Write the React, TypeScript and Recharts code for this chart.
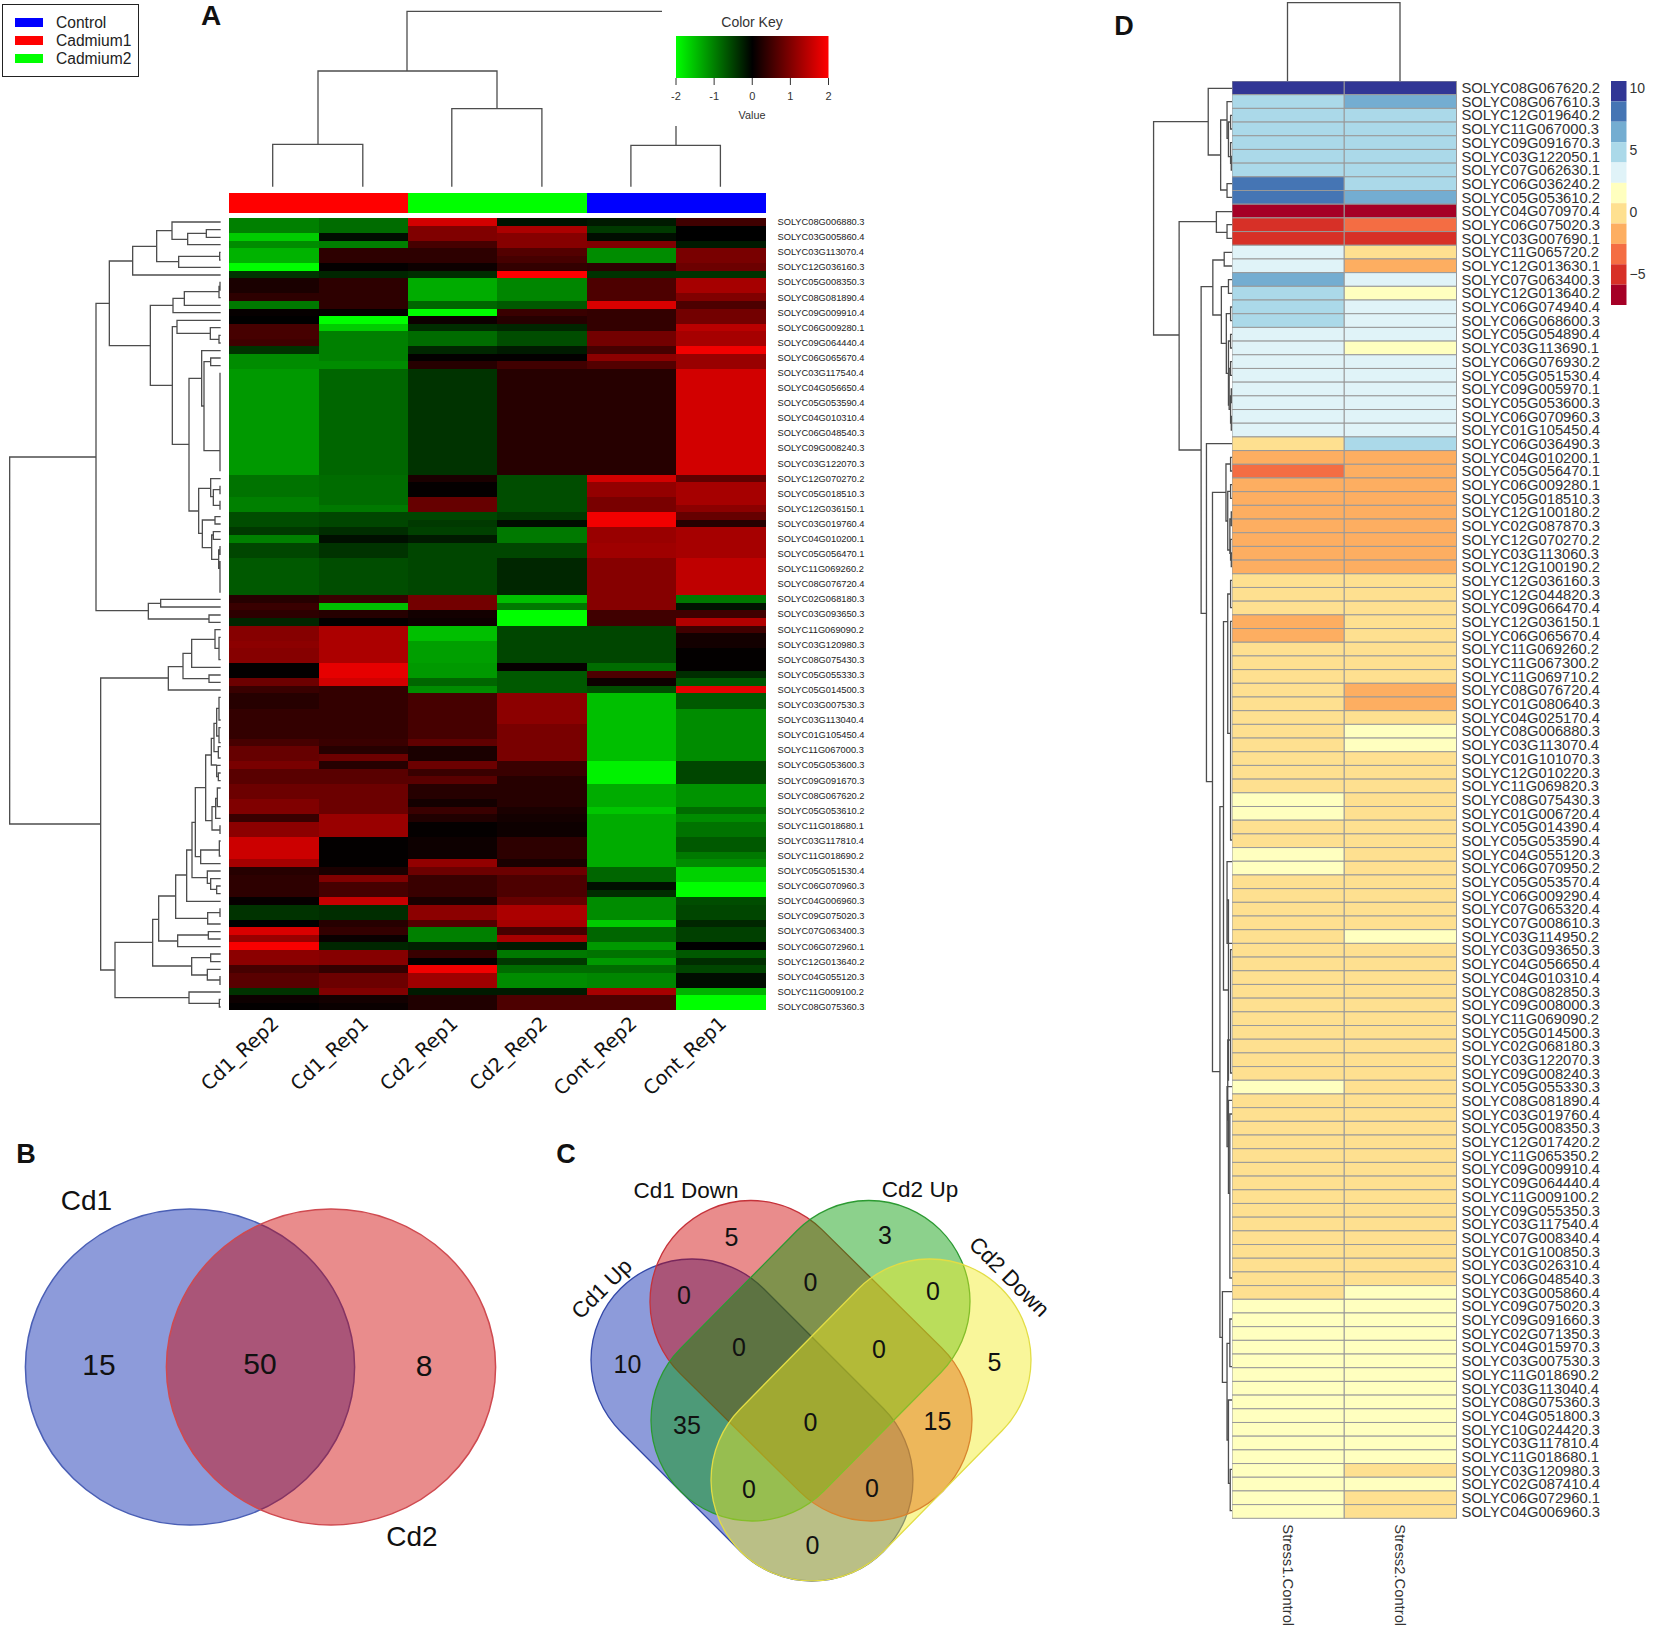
import React from "react";
import {
  Bar,
  BarChart,
  Line,
  LineChart,
  ReferenceArea,
  Scatter,
  ScatterChart,
  XAxis,
  YAxis,
} from "recharts";

// --- panel A heatmap: every second row carries a gene label
const geneLabelsA = [
  "SOLYC08G006880.3", "SOLYC03G005860.4", "SOLYC03G113070.4", "SOLYC12G036160.3", "SOLYC05G008350.3",
  "SOLYC08G081890.4", "SOLYC09G009910.4", "SOLYC06G009280.1", "SOLYC09G064440.4", "SOLYC06G065670.4",
  "SOLYC03G117540.4", "SOLYC04G056650.4", "SOLYC05G053590.4", "SOLYC04G010310.4", "SOLYC06G048540.3",
  "SOLYC09G008240.3", "SOLYC03G122070.3", "SOLYC12G070270.2", "SOLYC05G018510.3", "SOLYC12G036150.1",
  "SOLYC03G019760.4", "SOLYC04G010200.1", "SOLYC05G056470.1", "SOLYC11G069260.2", "SOLYC08G076720.4",
  "SOLYC02G068180.3", "SOLYC03G093650.3", "SOLYC11G069090.2", "SOLYC03G120980.3", "SOLYC08G075430.3",
  "SOLYC05G055330.3", "SOLYC05G014500.3", "SOLYC03G007530.3", "SOLYC03G113040.4", "SOLYC01G105450.4",
  "SOLYC11G067000.3", "SOLYC05G053600.3", "SOLYC09G091670.3", "SOLYC08G067620.2", "SOLYC05G053610.2",
  "SOLYC11G018680.1", "SOLYC03G117810.4", "SOLYC11G018690.2", "SOLYC05G051530.4", "SOLYC06G070960.3",
  "SOLYC04G006960.3", "SOLYC09G075020.3", "SOLYC07G063400.3", "SOLYC06G072960.1", "SOLYC12G013640.2",
  "SOLYC04G055120.3", "SOLYC11G009100.2", "SOLYC08G075360.3",
];
const sampleNamesA = ["Cd1_Rep2", "Cd1_Rep1", "Cd2_Rep1", "Cd2_Rep2", "Cont_Rep2", "Cont_Rep1"];

const cd1Rep2 = [
  -1.0, -1.0, -1.6, -1.1, -1.4, -1.4, -2.0, -0.4, 0.2, 0.2,
  0.35, -0.95, 0.05, 0.0, 0.55, 0.55, 0.5, -0.4, -1.1, -1.1,
  -1.2, -1.2, -1.2, -1.2, -1.2, -1.2, -1.2, -1.2, -1.2, -1.2,
  -1.2, -1.2, -1.2, -1.2, -0.9, -0.9, -0.9, -1.0, -1.0, -0.6,
  -0.6, -0.45, -1.0, -0.55, -0.55, -0.7, -0.7, -0.7, -0.7, -0.7,
  0.3, 0.45, 0.35, -0.3, 1.05, 1.05, 1.1, 1.05, 1.05, 0.02,
  0.02, 0.85, 0.45, 0.3, 0.3, 0.4, 0.4, 0.4, 0.4, 0.55,
  0.8, 0.8, 0.95, 0.7, 0.7, 0.85, 0.85, 1.0, 1.0, 0.45,
  1.1, 1.1, 1.6, 1.6, 1.6, 1.3, 0.3, 0.35, 0.35, 0.35,
  0.05, -0.4, -0.4, 0.0, 1.7, 1.2, 1.95, 1.1, 1.1, 0.55,
  0.7, 0.7, -0.4, 0.1, 0.02,
];
const cd1Rep1 = [
  -0.85, -0.85, -0.1, -1.0, 0.35, 0.35, 0.03, -0.3, 0.35, 0.35,
  0.35, 0.35, 0.02, -2.0, -1.6, -1.0, -1.0, -1.0, -1.0, -1.1,
  -0.8, -0.8, -0.8, -0.8, -0.8, -0.8, -0.8, -0.8, -0.8, -0.8,
  -0.8, -0.8, -0.8, -0.8, -0.85, -0.85, -0.85, -0.85, -0.95, -0.55,
  -0.55, -0.35, -0.12, -0.4, -0.4, -0.6, -0.6, -0.6, -0.6, -0.6,
  0.45, -1.5, 0.3, 0.03, 1.35, 1.35, 1.35, 1.35, 1.35, 1.8,
  1.8, 1.65, 0.4, 0.4, 0.4, 0.4, 0.4, 0.4, 0.4, 0.45,
  0.3, 0.85, 0.3, 0.7, 0.7, 0.85, 0.85, 0.85, 0.85, 1.2,
  1.2, 1.2, 0.02, 0.02, 0.02, 0.02, 0.2, 1.0, 0.55, 0.55,
  1.55, -0.35, -0.35, 0.3, 0.4, 0.08, -0.3, 1.05, 1.05, 0.4,
  0.85, 0.85, 1.0, 0.15, 0.08,
];
const cd2Rep1 = [
  1.65, 1.0, 1.0, 0.55, 0.35, 0.35, 0.1, -0.35, -1.35, -1.35,
  -1.35, -0.8, -2.0, 0.1, -0.35, -0.85, -0.85, -0.3, 0.02, 0.3,
  -0.4, -0.4, -0.4, -0.4, -0.4, -0.4, -0.4, -0.4, -0.4, -0.4,
  -0.4, -0.4, -0.4, -0.4, 0.2, 0.03, 0.03, 0.8, 0.8, -0.55,
  -0.45, -0.5, -0.2, -0.55, -0.55, -0.55, -0.55, -0.55, -0.55, -0.55,
  0.9, 0.9, 0.15, 0.1, -1.5, -1.5, -1.25, -1.25, -1.25, -1.2,
  -1.2, -0.8, -1.1, 0.55, 0.55, 0.55, 0.55, 0.55, 0.55, 0.75,
  0.2, 0.2, 0.85, 0.45, 0.7, 0.3, 0.3, 0.15, 0.45, 0.25,
  0.03, 0.03, 0.1, 0.1, 0.1, 1.15, 0.85, 0.45, 0.45, 0.45,
  0.2, 1.1, 1.1, 0.65, -1.0, -1.0, -0.25, 0.45, 0.03, 1.9,
  1.25, 1.25, -0.2, 0.25, 0.25,
];
const cd2Rep2 = [
  -0.15, 1.35, 1.05, 1.05, 0.65, 0.55, 0.4, 2.0, -1.05, -1.05,
  -1.05, -0.7, 0.45, 0.3, -0.3, -0.6, -0.6, -0.2, 0.02, 0.5,
  0.3, 0.3, 0.3, 0.3, 0.3, 0.3, 0.3, 0.3, 0.3, 0.3,
  0.3, 0.3, 0.3, 0.3, -0.6, -0.6, -0.6, -0.6, -0.6, -0.45,
  -0.1, -0.95, -0.95, -0.55, -0.55, -0.3, -0.3, -0.3, -0.3, -0.3,
  -1.5, -0.95, -2.0, -2.0, -0.55, -0.55, -0.55, -0.55, -0.55, 0.05,
  -0.7, -0.7, -0.7, 1.1, 1.1, 1.1, 1.1, 0.95, 0.95, 0.95,
  0.95, 0.95, 0.45, 0.45, 0.3, 0.3, 0.3, 0.3, 0.2, 0.15,
  0.1, 0.1, 0.35, 0.35, 0.35, 0.2, 0.85, 0.6, 0.6, 0.6,
  0.8, 1.35, 1.35, 1.3, 0.55, 1.3, -0.2, -0.95, -0.45, -0.85,
  -1.1, -1.1, -0.2, 0.6, 0.6,
];
const contRep2 = [
  -0.2, -0.45, -0.1, 1.0, -1.1, -1.1, 0.35, -0.4, 0.6, 0.6,
  0.6, 1.7, 0.4, 0.4, 0.4, 0.9, 0.9, 0.55, 1.1, 0.65,
  0.3, 0.3, 0.3, 0.3, 0.3, 0.3, 0.3, 0.3, 0.3, 0.3,
  0.3, 0.3, 0.3, 0.3, 1.65, 1.15, 1.15, 0.95, 0.95, 1.9,
  1.9, 1.2, 1.2, 1.25, 1.25, 1.05, 1.05, 1.05, 1.05, 1.05,
  1.05, 1.05, 0.5, 0.5, -0.55, -0.55, -0.55, -0.55, -0.55, -0.85,
  0.6, 0.1, -0.6, -1.5, -1.5, -1.5, -1.5, -1.5, -1.5, -1.5,
  -1.5, -1.5, -1.9, -1.9, -1.9, -1.35, -1.35, -1.35, -1.55, -1.35,
  -1.35, -1.35, -1.35, -1.35, -1.35, -1.35, -0.8, -0.8, -0.12, -0.35,
  -1.1, -1.1, -1.1, -1.6, -0.8, -0.8, -1.2, -0.9, -1.2, -0.85,
  -1.05, -1.05, 1.3, 0.6, 0.6,
];
const contRep1 = [
  0.5, 0.0, 0.0, -0.2, 0.95, 0.95, 0.85, -0.4, 1.3, 1.3,
  1.0, 0.6, 0.9, 0.9, 1.45, 1.3, 1.3, 1.9, 1.2, 1.2,
  1.65, 1.65, 1.65, 1.65, 1.65, 1.65, 1.65, 1.65, 1.65, 1.65,
  1.65, 1.65, 1.65, 1.65, 0.75, 1.3, 1.3, 1.3, 1.1, 0.8,
  0.3, 1.3, 1.3, 1.3, 1.3, 1.5, 1.5, 1.5, 1.5, 1.5,
  -0.95, -0.15, 0.5, 1.4, 0.5, 0.15, 0.15, 0.02, 0.02, 0.02,
  -0.35, -0.7, 1.8, -0.7, -0.7, -1.1, -1.1, -1.1, -1.1, -1.1,
  -1.1, -1.1, -0.55, -0.55, -0.55, -1.15, -1.15, -1.15, -0.85, -1.1,
  -0.9, -0.9, -0.7, -0.7, -0.95, -1.1, -1.65, -1.65, -2.0, -2.0,
  -0.6, -0.55, -0.55, -0.3, -0.5, -0.5, 0.0, -0.7, -0.35, -0.55,
  -0.1, -0.1, -1.4, -2.0, -2.0,
];
const columnsA = [cd1Rep2, cd1Rep1, cd2Rep1, cd2Rep2, contRep2, contRep1];

const groupNames = ["Control", "Cadmium1", "Cadmium2"];
const colorKeyTicks = [-2, -1, 0, 1, 2];

// --- panel A dendrograms: [node, yTop, xTopChild, yBottom, xBottomChild]
const leafA = 662;
const treeARowsUpper = [
  [29, 771, 288, 1872, 302],
  [288, 310, 328, 1232, 445],
  [328, 183, 398, 437, 451],
  [398, 139, 470, 225, leafA],
  [470, 92, 516, 185, 536],
  [516, 66, leafA, 118, 563],
  [563, 100, 619, 134, leafA],
  [619, 89, leafA, 112, leafA],
  [536, 169, 659, 202, leafA],
  [659, 157, leafA, 180, leafA],
  [451, 316, 519, 556, 517],
  [519, 295, 553, 338, leafA],
  [553, 275, 657, 316, leafA],
  [657, 259, 660, 293, leafA],
  [660, 247, leafA, 270, leafA],
  [517, 380, 531, 733, 567],
  [531, 361, leafA, 400, 631],
  [631, 383, leafA, 418, 657],
  [657, 406, leafA, 429, leafA],
  [567, 535, 605, 933, 596],
  [605, 452, leafA, 618, 612],
  [612, 485, 632, 752, 660],
  [632, 474, leafA, 497, leafA],
  [660, 520, leafA, 812, leafA],
  [596, 865, 632, 1000, 607],
  [632, 836, leafA, 890, 640],
  [640, 869, 660, 916, 660],
  [660, 859, leafA, 881, leafA],
  [660, 904, leafA, 927, leafA],
  [607, 960, 645, 1043, 635],
  [645, 950, leafA, 972, leafA],
  [635, 1005, 640, 1078, 656],
  [640, 995, leafA, 1018, leafA],
  [656, 1050, 660, 1105, 660],
  [660, 1040, leafA, 1063, leafA],
  [660, 1085, leafA, 1176, leafA],
  [445, 1210, 482, 1257, 627],
  [482, 1198, leafA, 1221, leafA],
  [627, 1245, leafA, 1267, leafA],
];
const treeARowsLower = [
  [302, 204, 505, 1080, 345],
  [505, 170, 549, 240, leafA],
  [549, 130, 575, 206, 627],
  [575, 88, 645, 172, leafA],
  [645, 59, leafA, 115, 657],
  [657, 82, leafA, 149, leafA],
  [627, 195, leafA, 217, leafA],
  [345, 997, 458, 1163, 567],
  [458, 928, 476, 1068, 575],
  [476, 858, 527, 993, 533],
  [527, 795, 560, 925, 623],
  [560, 720, 576, 874, leafA],
  [576, 637, 586, 803, 622],
  [586, 533, 617, 740, 602],
  [617, 435, 634, 632, 636],
  [634, 385, 642, 465, 650],
  [642, 340, 650, 425, 655],
  [650, 295, 657, 378, 657],
  [657, 262, leafA, 330, leafA],
  [657, 353, leafA, 398, leafA],
  [655, 410, leafA, 444, leafA],
  [650, 466, leafA, 500, 655],
  [655, 489, leafA, 512, leafA],
  [636, 590, 647, 660, 660],
  [647, 565, 652, 625, leafA],
  [652, 534, leafA, 590, leafA],
  [660, 648, leafA, 670, leafA],
  [602, 720, 658, 761, leafA],
  [658, 693, leafA, 738, leafA],
  [622, 783, leafA, 820, 632],
  [632, 806, leafA, 838, 650],
  [650, 828, leafA, 851, leafA],
  [623, 908, 660, 942, leafA],
  [660, 897, leafA, 919, leafA],
  [533, 975, 625, 1010, leafA],
  [625, 965, leafA, 987, leafA],
  [575, 1043, 632, 1095, 622],
  [632, 1032, leafA, 1055, leafA],
  [622, 1078, leafA, 1110, 660],
  [660, 1100, leafA, 1123, leafA],
  [567, 1146, leafA, 1180, 658],
  [658, 1168, leafA, 1191, leafA],
];

// top dendrograms: [yNode, xLeft, yLeft, xRight, yRight]
const topTreeA = [
  [11.3, 407, 71, 662, 11.3],
  [71, 318, 144.3, 497, 108.7],
  [144.3, 272.7, 186.7, 362.8, 186.7],
  [108.7, 451.8, 186.7, 541.9, 186.7],
  [145.3, 630.9, 186.7, 720.4, 186.7],
  [126, 676, 145.3, 676, 126],
];
const topTreeD = [[2.7, 1287.5, 81, 1400, 81]];

// --- panel B and C venn counts
const vennBCounts = [15, 50, 8];
const vennBNames = ["Cd1", "Cd2"];
const vennCCounts = [5, 3, 0, 0, 0, 10, 0, 0, 5, 35, 0, 15, 0, 0, 0];
const vennCNames = ["Cd1 Up", "Cd1 Down", "Cd2 Up", "Cd2 Down"];

// --- panel D heatmap
const geneLabelsD = [
  "SOLYC08G067620.2", "SOLYC08G067610.3", "SOLYC12G019640.2", "SOLYC11G067000.3", "SOLYC09G091670.3",
  "SOLYC03G122050.1", "SOLYC07G062630.1", "SOLYC06G036240.2", "SOLYC05G053610.2", "SOLYC04G070970.4",
  "SOLYC06G075020.3", "SOLYC03G007690.1", "SOLYC11G065720.2", "SOLYC12G013630.1", "SOLYC07G063400.3",
  "SOLYC12G013640.2", "SOLYC06G074940.4", "SOLYC06G068600.3", "SOLYC05G054890.4", "SOLYC03G113690.1",
  "SOLYC06G076930.2", "SOLYC05G051530.4", "SOLYC09G005970.1", "SOLYC05G053600.3", "SOLYC06G070960.3",
  "SOLYC01G105450.4", "SOLYC06G036490.3", "SOLYC04G010200.1", "SOLYC05G056470.1", "SOLYC06G009280.1",
  "SOLYC05G018510.3", "SOLYC12G100180.2", "SOLYC02G087870.3", "SOLYC12G070270.2", "SOLYC03G113060.3",
  "SOLYC12G100190.2", "SOLYC12G036160.3", "SOLYC12G044820.3", "SOLYC09G066470.4", "SOLYC12G036150.1",
  "SOLYC06G065670.4", "SOLYC11G069260.2", "SOLYC11G067300.2", "SOLYC11G069710.2", "SOLYC08G076720.4",
  "SOLYC01G080640.3", "SOLYC04G025170.4", "SOLYC08G006880.3", "SOLYC03G113070.4", "SOLYC01G101070.3",
  "SOLYC12G010220.3", "SOLYC11G069820.3", "SOLYC08G075430.3", "SOLYC01G006720.4", "SOLYC05G014390.4",
  "SOLYC05G053590.4", "SOLYC04G055120.3", "SOLYC06G070950.2", "SOLYC05G053570.4", "SOLYC06G009290.4",
  "SOLYC07G065320.4", "SOLYC07G008610.3", "SOLYC03G114950.2", "SOLYC03G093650.3", "SOLYC04G056650.4",
  "SOLYC04G010310.4", "SOLYC08G082850.3", "SOLYC09G008000.3", "SOLYC11G069090.2", "SOLYC05G014500.3",
  "SOLYC02G068180.3", "SOLYC03G122070.3", "SOLYC09G008240.3", "SOLYC05G055330.3", "SOLYC08G081890.4",
  "SOLYC03G019760.4", "SOLYC05G008350.3", "SOLYC12G017420.2", "SOLYC11G065350.2", "SOLYC09G009910.4",
  "SOLYC09G064440.4", "SOLYC11G009100.2", "SOLYC09G055350.3", "SOLYC03G117540.4", "SOLYC07G008340.4",
  "SOLYC01G100850.3", "SOLYC03G026310.4", "SOLYC06G048540.3", "SOLYC03G005860.4", "SOLYC09G075020.3",
  "SOLYC09G091660.3", "SOLYC02G071350.3", "SOLYC04G015970.3", "SOLYC03G007530.3", "SOLYC11G018690.2",
  "SOLYC03G113040.4", "SOLYC08G075360.3", "SOLYC04G051800.3", "SOLYC10G024420.3", "SOLYC03G117810.4",
  "SOLYC11G018680.1", "SOLYC03G120980.3", "SOLYC02G087410.4", "SOLYC06G072960.1", "SOLYC04G006960.3",
];
const sampleNamesD = ["Stress1.Control", "Stress2.Control"];
const stress1Control = [
  9.7, 4.8, 4.8, 4.8, 4.8, 4.8, 4.8, 8.1, 8.1, -6.7,
  -5.1, -5.1, 3.1, 3.1, 6.4, 4.8, 4.8, 4.8, 3.1, 3.1,
  3.1, 3.1, 3.1, 3.1, 3.1, 3.1, -0.2, -1.8, -3.5, -1.8,
  -1.8, -1.8, -1.8, -1.8, -1.8, -1.8, -0.2, -0.2, -0.2, -1.8,
  -1.8, -0.2, -0.2, -0.2, -0.2, -0.2, -0.2, -0.2, -0.2, -0.2,
  -0.2, -0.2, 1.5, 1.5, -0.2, -0.2, 1.5, 1.5, -0.2, -0.2,
  -0.2, -0.2, -0.2, -0.2, -0.2, -0.2, -0.2, -0.2, -0.2, -0.2,
  -0.2, -0.2, -0.2, 1.5, -0.2, -0.2, -0.2, -0.2, -0.2, -0.2,
  -0.2, -0.2, -0.2, -0.2, -0.2, -0.2, -0.2, -0.2, -0.2, 1.5,
  1.5, 1.5, 1.5, 1.5, 1.5, 1.5, 1.5, 1.5, 1.5, 1.5,
  1.5, 1.5, 1.5, 1.5, 1.5,
];
const stress2Control = [
  9.7, 6.4, 4.8, 4.8, 4.8, 4.8, 4.8, 4.8, 6.4, -6.7,
  -3.5, -5.1, -0.2, -1.8, 3.1, 1.5, 3.1, 3.1, 3.1, 1.5,
  3.1, 3.1, 3.1, 3.1, 3.1, 3.1, 4.8, -1.8, -1.8, -1.8,
  -1.8, -1.8, -1.8, -1.8, -1.8, -1.8, -0.2, -0.2, -0.2, -0.2,
  -0.2, -0.2, -0.2, -0.2, -1.8, -1.8, -0.2, 1.5, 1.5, -0.2,
  -0.2, -0.2, -0.2, -0.2, -0.2, -0.2, -0.2, -0.2, -0.2, -0.2,
  -0.2, -0.2, 1.5, -0.2, -0.2, -0.2, -0.2, -0.2, -0.2, -0.2,
  -0.2, -0.2, -0.2, -0.2, -0.2, -0.2, -0.2, -0.2, -0.2, -0.2,
  -0.2, -0.2, -0.2, -0.2, -0.2, -0.2, -0.2, -0.2, 1.5, 1.5,
  1.5, 1.5, 1.5, 1.5, 1.5, 1.5, 1.5, 1.5, 1.5, 1.5,
  1.5, -0.2, 1.5, -0.2, -0.2,
];
const columnsD = [stress1Control, stress2Control];

const paletteD = ["#313695", "#4575b4", "#74add1", "#abd9e9", "#e0f3f8", "#ffffbf", "#fee090", "#fdae61", "#f46d43", "#d73027", "#a50026"];
const legendTopD = 10.56;
const legendBottomD = -7.5;
const legendTicksD = [10, 5, 0, -5];

const leafD = 372;
const treeDRows = [
  [151, 365, 305, 1005, 223],
  [305, 265, leafD, 465, 340],
  [340, 360, 358, 570, 358],
  [358, 305, leafD, 415, 362],
  [362, 366, 368, 470, 368],
  [368, 346, leafD, 387, leafD],
  [368, 428, leafD, 490, 370],
  [370, 469, leafD, 510, leafD],
  [358, 551, leafD, 592, leafD],
  [223, 665, 328, 1350, 285],
  [328, 635, leafD, 697, 358],
  [358, 674, leafD, 715, leafD],
  [285, 860, 318, 1840, 300],
  [318, 780, 350, 945, 342],
  [350, 757, leafD, 798, leafD],
  [342, 860, 362, 1030, 356],
  [362, 839, leafD, 880, leafD],
  [356, 941, 368, 1120, 362],
  [368, 921, leafD, 962, leafD],
  [362, 1023, 368, 1215, 364],
  [368, 1003, leafD, 1044, leafD],
  [364, 1105, 368, 1228, 368],
  [368, 1085, leafD, 1126, leafD],
  [368, 1188, 370, 1269, 370],
  [370, 1167, leafD, 1208, leafD],
  [370, 1249, leafD, 1290, leafD],
  [300, 1331, leafD, 2345, 317],
  [317, 1477, 355, 3215, 338],
  [355, 1392, 368, 1563, 360],
  [368, 1372, leafD, 1413, leafD],
  [360, 1474, 368, 1650, 366],
  [368, 1454, leafD, 1495, leafD],
  [366, 1557, 370, 1660, 368],
  [370, 1536, leafD, 1577, leafD],
  [368, 1618, leafD, 1680, 370],
  [370, 1659, leafD, 1700, leafD],
  [338, 2420, 348, 4012, 345],
  [348, 1865, 360, 2970, 362],
  [360, 1782, 368, 2200, 368],
  [368, 1741, leafD, 1823, leafD],
  [368, 1864, leafD, 2520, leafD],
  [362, 2700, 358, 3240, 360],
  [358, 2585, leafD, 2830, leafD],
  [360, 3120, 368, 3360, 358],
  [368, 2849, leafD, 3219, leafD],
  [358, 3260, leafD, 3440, 362],
  [362, 3301, leafD, 3580, 366],
  [366, 3342, leafD, 3834, leafD],
  [345, 3875, leafD, 4147, 358],
  [358, 4030, 366, 4320, 362],
  [366, 3957, leafD, 4100, leafD],
  [362, 4200, leafD, 4450, 367],
  [367, 4408, leafD, 4532, leafD],
];

// --- layout
const FONT = "'Liberation Sans', Arial, sans-serif";
const heatA = { left: 228.5, top: 218.3, width: 537, height: 792.4 };
const heatD = { left: 1231.5, top: 81, width: 224.5, height: 1437.3 };
const rowHeightA = heatA.height / cd1Rep2.length;
const rowHeightD = heatD.height / stress1Control.length;
const lineColor = "#4d4d4d";
const labelGutter = 130;

const heatColorA = (v: number) => {
  const level = Math.round((Math.min(Math.abs(v), 2) / 2) * 255);
  return v >= 0 ? `rgb(${level},0,0)` : `rgb(0,${level},0)`;
};
const heatColorD = (v: number) => {
  const binSize = (legendTopD - legendBottomD) / paletteD.length;
  const bin = Math.floor((legendTopD - v) / binSize);
  return paletteD[Math.max(0, Math.min(paletteD.length - 1, bin))];
};

const rowsOf = (columns: number[][]) =>
  columns[0].map((_, row) => {
    const rec: Record<string, number> = { row };
    columns.forEach((_c, i) => (rec[`c${i}`] = 1));
    return rec;
  });

const cellShape =
  (values: number[], rowHeight: number, colorOf: (v: number) => string, grid?: string) =>
  (p: any) => (
    <rect
      x={p.x}
      y={p.y}
      width={p.width}
      height={rowHeight}
      fill={colorOf(values[p.index])}
      stroke={grid || "none"}
      strokeWidth={grid ? 1 : 0}
      shapeRendering={grid ? undefined : "crispEdges"}
    />
  );

const Place = ({ left, top, children }: any) => (
  <div style={{ position: "absolute", left, top }}>{children}</div>
);

const Caption = ({ x, y, size = 16, weight = 400, angle = 0, color = "#111", family = FONT, children }: any) => (
  <span
    style={{
      position: "absolute",
      left: x,
      top: y,
      transform: `translate(-50%, -50%) rotate(${angle}deg)`,
      fontFamily: family,
      fontSize: size,
      fontWeight: weight,
      color,
      whiteSpace: "nowrap",
      lineHeight: 1,
    }}
  >
    {children}
  </span>
);

// flatten links into one polyline data set, y:null breaks the line between links
const leftTreePoints = (links: number[][]) =>
  links.flatMap(([node, yA, xA, yB, xB]) => [
    { x: xA, y: yA },
    { x: node, y: yA },
    { x: node, y: yB },
    { x: xB, y: yB },
    { x: xB, y: null },
  ]);
const topTreePoints = (links: number[][]) =>
  links.flatMap(([node, xA, yA, xB, yB]) => [
    { x: xA, y: yA },
    { x: xA, y: node },
    { x: xB, y: node },
    { x: xB, y: yB },
    { x: xB, y: null },
  ]);

const TreeChart = ({ points, left, top, width, height, xMax, yMax, strokeWidth = 1.3 }: any) => (
  <Place left={left} top={top}>
    <LineChart width={width} height={height} data={points} margin={{ top: 0, right: 0, bottom: 0, left: 0 }}>
      <XAxis type="number" dataKey="x" domain={[0, xMax]} allowDataOverflow hide />
      <YAxis type="number" domain={[0, yMax]} reversed allowDataOverflow hide />
      <Line
        dataKey="y"
        stroke={lineColor}
        strokeWidth={strokeWidth}
        dot={false}
        activeDot={false}
        connectNulls={false}
        isAnimationActive={false}
        type="linear"
      />
    </LineChart>
  </Place>
);

const AngledTick = ({ x, y, payload }: any) => (
  <text
    x={x + 2}
    y={y + 8}
    transform={`rotate(-43 ${x + 2} ${y + 8})`}
    textAnchor="end"
    dominantBaseline="central"
    fontFamily="'DejaVu Sans'"
    fontSize={19.5}
    fill="#111"
  >
    {sampleNamesA[Math.floor(payload.value)]}
  </text>
);

const DownTick = ({ x, y, payload }: any) => (
  <text
    x={x}
    y={y + 4}
    transform={`rotate(90 ${x} ${y + 4})`}
    dominantBaseline="central"
    fontFamily={FONT}
    fontSize={14.8}
    fill="#333"
  >
    {sampleNamesD[Math.floor(payload.value)]}
  </text>
);

const ellipseShape = (p: any) => (
  <ellipse
    cx={p.cx}
    cy={p.cy}
    rx={p.payload.rx}
    ry={p.payload.ry}
    fill={p.payload.fill}
    fillOpacity={0.45}
    stroke={p.payload.stroke}
    strokeWidth={1.5}
  />
);

const capsuleShape = (p: any) => {
  const { dx, dy, r, fill, stroke } = p.payload;
  const len = Math.hypot(dx, dy);
  const nx = (-dy / len) * r;
  const ny = (dx / len) * r;
  const d =
    `M ${p.cx + nx} ${p.cy + ny} L ${p.cx + dx + nx} ${p.cy + dy + ny} ` +
    `A ${r} ${r} 0 0 0 ${p.cx + dx - nx} ${p.cy + dy - ny} ` +
    `L ${p.cx - nx} ${p.cy - ny} A ${r} ${r} 0 0 0 ${p.cx + nx} ${p.cy + ny} Z`;
  return <path d={d} fill={fill} fillOpacity={0.45} stroke={stroke} strokeWidth={1.3} />;
};

const countShape = (size: number) => (p: any) => (
  <text
    x={p.cx}
    y={p.cy}
    textAnchor="middle"
    dominantBaseline="central"
    fontFamily={FONT}
    fontSize={size}
    fill="#111"
  >
    {p.payload.count}
  </text>
);

const vennBShapes = [
  { x: 190, y: 1367, rx: 164.6, ry: 158, fill: "#0221ad", stroke: "#4a5fb5" },
  { x: 331, y: 1367, rx: 164.6, ry: 158, fill: "#ce0000", stroke: "#cf4a50" },
];
const vennBSpots = [
  [99, 1364],
  [260, 1363],
  [424, 1365],
];
const vennCShapes = [
  { x: 692, y: 1360, dx: 120, dy: 120, r: 101, fill: "#0221ad", stroke: "#3348a8" },
  { x: 751, y: 1301.5, dx: 120, dy: 118.5, r: 101, fill: "#ce0000", stroke: "#c5323a" },
  { x: 869, y: 1301.5, dx: -117, dy: 118.5, r: 101, fill: "#009900", stroke: "#2c9a32" },
  { x: 930, y: 1360, dx: -118, dy: 120, r: 101, fill: "#f2eb1e", stroke: "#e2dd45" },
];
const vennCSpots = [
  [731.5, 1237], [885, 1235], [684, 1295], [810.5, 1282], [933, 1291],
  [627.5, 1364], [739, 1347], [879, 1349], [994.5, 1362], [687, 1425],
  [810.5, 1422], [937.5, 1421], [749, 1489], [872, 1488], [812.5, 1545],
];

const VennChart = ({ shapes, shape, counts, spots, size }: any) => (
  <Place left={0} top={1130}>
    <ScatterChart width={1060} height={500} margin={{ top: 0, right: 0, bottom: 0, left: 0 }}>
      <XAxis type="number" dataKey="x" domain={[0, 1060]} allowDataOverflow hide />
      <YAxis type="number" dataKey="y" domain={[1130, 1630]} reversed allowDataOverflow hide />
      <Scatter data={shapes} shape={shape} isAnimationActive={false} />
      <Scatter
        data={counts.map((count: number, i: number) => ({ count, x: spots[i][0], y: spots[i][1] }))}
        shape={countShape(size)}
        isAnimationActive={false}
      />
    </ScatterChart>
  </Place>
);

const rowsA = rowsOf(columnsA);
const rowsD = rowsOf(columnsD);
const groupBand = [{ row: "groups", cadmium1: 2, cadmium2: 2, control: 2 }];
const keyBand = [{ row: "key", range: [-2, 2] }];
const legendBins = paletteD.map((color, i) => {
  const size = (legendTopD - legendBottomD) / paletteD.length;
  return { color, y1: legendTopD - size * i, y2: legendTopD - size * (i + 1) };
});

export default function App() {
  return (
    <div style={{ position: "absolute", left: 0, top: 0, width: 1654, height: 1630, background: "#fff", overflow: "hidden" }}>
      {/* group legend */}
      <div style={{ position: "absolute", left: 2, top: 4, width: 135, height: 71, border: "1.5px solid #222" }} />
      {groupNames.map((name, i) => (
        <React.Fragment key={name}>
          <div
            style={{
              position: "absolute",
              left: 14.5,
              top: 18 + i * 18,
              width: 28.5,
              height: 9,
              background: ["#0000ff", "#ff0000", "#00ff00"][i],
            }}
          />
          <span
            style={{
              position: "absolute",
              left: 56,
              top: 15 + i * 18,
              fontFamily: FONT,
              fontSize: 15.6,
              lineHeight: "16px",
              color: "#222",
            }}
          >
            {name}
          </span>
        </React.Fragment>
      ))}

      <Caption x={211} y={16} size={28} weight={700}>A</Caption>
      <Caption x={26} y={1154} size={27} weight={700}>B</Caption>
      <Caption x={566} y={1154} size={27} weight={700}>C</Caption>
      <Caption x={1124} y={26} size={27} weight={700}>D</Caption>

      {/* panel A */}
      <TreeChart points={topTreePoints(topTreeA)} left={0} top={0} width={900} height={200} xMax={900} yMax={200} />
      <TreeChart
        points={leftTreePoints([...treeARowsUpper, ...treeARowsLower.map(([n, a, xa, b, xb]) => [n, a + 1230, xa, b + 1230, xb])])}
        left={0}
        top={200}
        width={228}
        height={830}
        xMax={684}
        yMax={2490}
      />
      <Place left={heatA.left} top={193}>
        <BarChart width={heatA.width} height={20} layout="vertical" data={groupBand} barCategoryGap={0} margin={{ top: 0, right: 0, bottom: 0, left: 0 }}>
          <XAxis type="number" domain={[0, 6]} hide />
          <YAxis type="category" dataKey="row" hide />
          <Bar dataKey="cadmium1" stackId="g" fill="#ff0000" isAnimationActive={false} />
          <Bar dataKey="cadmium2" stackId="g" fill="#00ff00" isAnimationActive={false} />
          <Bar dataKey="control" stackId="g" fill="#0000ff" isAnimationActive={false} />
        </BarChart>
      </Place>
      <Place left={heatA.left - labelGutter} top={heatA.top}>
        <BarChart
          width={heatA.width + 120 + labelGutter}
          height={heatA.height + 100}
          layout="vertical"
          data={rowsA}
          barCategoryGap={0}
          margin={{ top: 0, right: 0, bottom: 0, left: labelGutter }}
        >
          <XAxis
            type="number"
            domain={[0, 6]}
            ticks={[0.5, 1.5, 2.5, 3.5, 4.5, 5.5]}
            interval={0}
            height={100}
            axisLine={false}
            tickLine={false}
            tickSize={0}
            tick={<AngledTick />}
          />
          <YAxis
            type="category"
            dataKey="row"
            orientation="right"
            width={120}
            interval={1}
            axisLine={false}
            tickLine={false}
            tickSize={0}
            tickMargin={11.5}
            tickFormatter={(row: number) => geneLabelsA[row / 2] || ""}
            tick={{ fontSize: 9.3, fill: "#222", fontFamily: FONT }}
          />
          {columnsA.map((values, i) => (
            <Bar
              key={i}
              dataKey={`c${i}`}
              stackId="cells"
              shape={cellShape(values, rowHeightA, heatColorA)}
              isAnimationActive={false}
            />
          ))}
        </BarChart>
      </Place>

      {/* colour key */}
      <Caption x={752} y={22} size={14} color="#333">Color Key</Caption>
      <Place left={656} top={36}>
        <BarChart
          width={192.5}
          height={90}
          layout="vertical"
          data={keyBand}
          barCategoryGap={0}
          margin={{ top: 0, right: 20, bottom: 0, left: 20 }}
        >
          <defs>
            <linearGradient id="colorKeyFill" x1="0" x2="1" y1="0" y2="0">
              <stop offset="0%" stopColor={heatColorA(-2)} />
              <stop offset="50%" stopColor={heatColorA(0)} />
              <stop offset="100%" stopColor={heatColorA(2)} />
            </linearGradient>
          </defs>
          <XAxis
            type="number"
            domain={[-2, 2]}
            ticks={colorKeyTicks}
            interval={0}
            height={48}
            axisLine={false}
            tickSize={7}
            tickMargin={7}
            stroke="#333"
            tick={{ fontSize: 11, fill: "#333", fontFamily: FONT }}
          />
          <YAxis type="category" dataKey="row" hide />
          <Bar dataKey="range" fill="url(#colorKeyFill)" isAnimationActive={false} />
        </BarChart>
      </Place>
      <Caption x={752} y={115} size={10.8} color="#333">Value</Caption>

      {/* panel B */}
      <VennChart shapes={vennBShapes} shape={ellipseShape} counts={vennBCounts} spots={vennBSpots} size={30} />
      <Caption x={86.5} y={1201} size={28}>{vennBNames[0]}</Caption>
      <Caption x={412} y={1537} size={28}>{vennBNames[1]}</Caption>

      {/* panel C */}
      <VennChart shapes={vennCShapes} shape={capsuleShape} counts={vennCCounts} spots={vennCSpots} size={25} />
      <Caption x={602} y={1289} size={22} angle={-45}>{vennCNames[0]}</Caption>
      <Caption x={686} y={1191} size={22.5}>{vennCNames[1]}</Caption>
      <Caption x={920} y={1190} size={22.5}>{vennCNames[2]}</Caption>
      <Caption x={1009} y={1277} size={22} angle={45}>{vennCNames[3]}</Caption>

      {/* panel D */}
      <TreeChart points={topTreePoints(topTreeD)} left={0} top={0} width={1500} height={100} xMax={1500} yMax={100} />
      <TreeChart
        points={leftTreePoints(treeDRows)}
        left={1100}
        top={0}
        width={132}
        height={1530}
        xMax={372}
        yMax={4590}
      />
      <Place left={heatD.left} top={heatD.top}>
        <BarChart
          width={heatD.width + 175}
          height={heatD.height + 111}
          layout="vertical"
          data={rowsD}
          barCategoryGap={0}
          margin={{ top: 0, right: 0, bottom: 0, left: 0 }}
        >
          <XAxis
            type="number"
            domain={[0, 2]}
            ticks={[0.5, 1.5]}
            interval={0}
            height={111}
            axisLine={false}
            tickLine={false}
            tickSize={0}
            tick={<DownTick />}
          />
          <YAxis
            type="category"
            dataKey="row"
            orientation="right"
            width={175}
            interval={0}
            axisLine={false}
            tickLine={false}
            tickSize={0}
            tickMargin={5}
            tickFormatter={(row: number) => geneLabelsD[row]}
            tick={{ fontSize: 14.8, fill: "#333", fontFamily: FONT }}
          />
          {columnsD.map((values, i) => (
            <Bar
              key={i}
              dataKey={`c${i}`}
              stackId="cells"
              shape={cellShape(values, rowHeightD, heatColorD, "#999999")}
              isAnimationActive={false}
            />
          ))}
        </BarChart>
      </Place>

      {/* panel D legend */}
      <Place left={1610.5} top={81}>
        <BarChart width={50} height={224} data={[{ row: 0 }]} margin={{ top: 0, right: 0, bottom: 0, left: 0 }}>
          <XAxis type="number" domain={[0, 1]} hide />
          <YAxis
            type="number"
            orientation="right"
            domain={[legendBottomD, legendTopD]}
            ticks={legendTicksD}
            interval={0}
            width={34.5}
            axisLine={false}
            tickLine={false}
            tickSize={0}
            tickMargin={3}
            allowDataOverflow
            tickFormatter={(v: number) => (v < 0 ? `\u2212${-v}` : `${v}`)}
            tick={{ fontSize: 14, fill: "#333", fontFamily: FONT, textAnchor: "start" }}
          />
          {legendBins.map((bin) => (
            <ReferenceArea key={bin.color} y1={bin.y1} y2={bin.y2} fill={bin.color} fillOpacity={1} stroke="none" />
          ))}
        </BarChart>
      </Place>
    </div>
  );
}
